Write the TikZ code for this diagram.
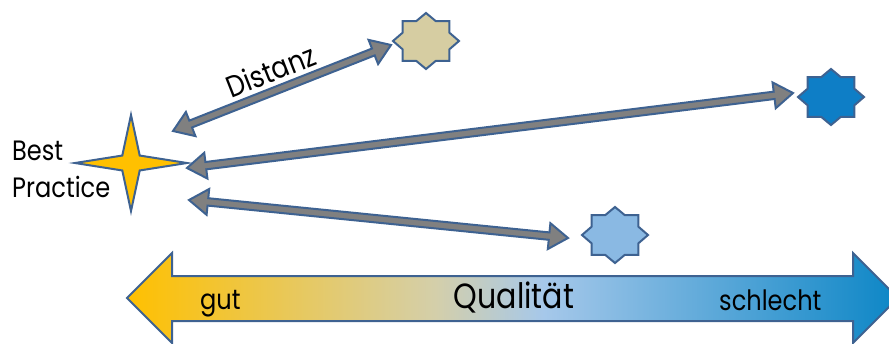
\documentclass[tikz,border=0pt]{standalone}
\usepackage{fontspec}
\setmainfont{Poppins}[FakeStretch=0.86]
\usetikzlibrary{calc}

\definecolor{edgeblue}{RGB}{62,98,145}
\definecolor{bodygray}{RGB}{128,128,128}
\definecolor{bpyellow}{RGB}{255,192,0}
\definecolor{sand}{RGB}{214,205,162}
\definecolor{deepblue}{RGB}{14,126,198}
\definecolor{skyblue}{RGB}{138,185,227}
\definecolor{qA}{RGB}{255,192,0}
\definecolor{qB}{RGB}{212,207,170}
\definecolor{qC}{RGB}{166,200,234}
\definecolor{qD}{RGB}{12,134,198}
\pgfdeclarehorizontalshading{quality}{100bp}{color(0bp)=(qA); color(25bp)=(qA); color(45bp)=(qB); color(52bp)=(qC); color(75bp)=(qD); color(100bp)=(qD)}

\tikzset{
  outlined/.style={draw=edgeblue, line width=2pt, line join=miter},
  blockarrow/.style={outlined, fill=bodygray},
  label/.style={inner sep=0pt, font=\fontsize{28}{32}\selectfont},
}

% star with n points: style, centre, x radius, y radius, last vertex index (2n-1), inner ratio, points
\newcommand\spikystar[7]{%
  \draw[#1] ($(#2)+(0:#3 and #4)$)
    \foreach \k in {1,...,#5} {-- ($(#2)+({180/#7*\k}:{#3*(1-(1-#6)*mod(\k,2))} and {#4*(1-(1-#6)*mod(\k,2))})$)}
    -- cycle;}

% double-headed block arrow between two named points
\newcommand\twoheaded[2]{%
  \coordinate (hA) at ($(#1)!19pt!(#2)$);
  \coordinate (hB) at ($(#2)!19pt!(#1)$);
  \draw[blockarrow] (#1) -- ($(hA)!13pt!90:(#2)$) -- ($(hA)!3.7pt!90:(#2)$)
    -- ($(hB)!3.7pt!-90:(#1)$) -- ($(hB)!13pt!-90:(#1)$) -- (#2)
    -- ($(hB)!13pt!90:(#1)$) -- ($(hB)!3.7pt!90:(#1)$)
    -- ($(hA)!3.7pt!-90:(#2)$) -- ($(hA)!13pt!-90:(#2)$) -- cycle;}

\begin{document}
\begin{tikzpicture}[x=1pt, y=-1pt]
\useasboundingbox (0,0) rectangle (889,343);
\clip (0,0) rectangle (889,343);

% quality scale
\draw[outlined, shading=quality]
  (127,298) -- (172,253) -- (172,276) -- (853,276) -- (853,253) -- (898,298)
  -- (853,343) -- (853,321) -- (172,321) -- (172,343) -- cycle;
\node[label, anchor=base west] (gut) at (200,309) {gut};
\node[label, anchor=base, font=\fontsize{35}{40}\selectfont] (qual) at (514,308) {Qualität};
\node[label, anchor=base west] (bad) at (719,310) {schlecht};

% reference point and compared cases
\coordinate (best) at (131,163);
\coordinate (caseA) at (426,41);
\coordinate (caseB) at (831,97);
\coordinate (caseC) at (615,235);
\spikystar{outlined, fill=bpyellow}{best}{56}{48}{7}{0.22}{4}
\spikystar{outlined, fill=sand}{caseA}{33}{28}{15}{0.77}{8}
\spikystar{outlined, fill=deepblue}{caseB}{33}{28}{15}{0.77}{8}
\spikystar{outlined, fill=skyblue}{caseC}{33}{28}{15}{0.77}{8}

\node[label, anchor=base west] (bestA) at (12,160) {Best};
\node[label, anchor=base west] (bestB) at (12,197) {Practice};

% distances
\coordinate (a1) at (173,131);
\coordinate (b1) at (391,45);
\coordinate (a2) at (187,168);
\coordinate (b2) at (793,93);
\coordinate (a3) at (189,200);
\coordinate (b3) at (568,238);
\twoheaded{a1}{b1}
\twoheaded{a2}{b2}
\twoheaded{a3}{b3}

\node[label, anchor=base, rotate=21.5, font=\fontsize{30}{34}\selectfont] (dist) at (275,81) {Distanz};
\end{tikzpicture}
\end{document}
